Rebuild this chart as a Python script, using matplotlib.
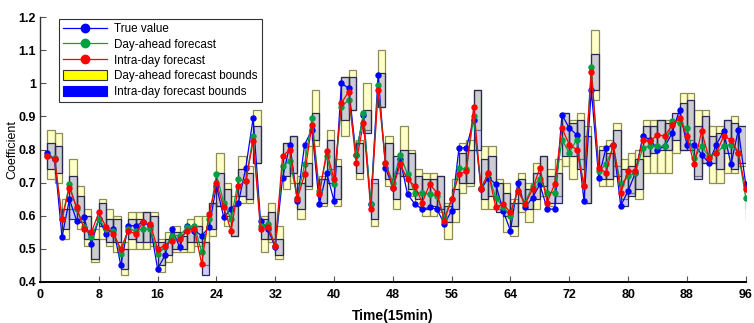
import numpy as np
import matplotlib
matplotlib.use("Agg")
import matplotlib.pyplot as plt
from matplotlib.lines import Line2D
from matplotlib.patches import Patch

plt.rcParams['font.family'] = ['Liberation Sans', 'DejaVu Sans']

# time steps (15 min each)
steps = np.arange(1, 97)

true_value = [
    0.79, 0.77, 0.535, 0.65, 0.585, 0.595, 0.515, 0.59, 0.545, 0.56,
    0.45, 0.57, 0.57, 0.58, 0.57, 0.44, 0.48, 0.56, 0.505, 0.57,
    0.555, 0.54, 0.565, 0.69, 0.595, 0.62, 0.64, 0.745, 0.895, 0.585,
    0.56, 0.505, 0.715, 0.815, 0.645, 0.815, 0.86, 0.635, 0.73, 0.645,
    1.0, 0.985, 0.785, 0.905, 0.635, 1.025, 0.745, 0.685, 0.77, 0.665,
    0.635, 0.62, 0.625, 0.62, 0.575, 0.615, 0.805, 0.805, 0.89, 0.68,
    0.715, 0.695, 0.615, 0.555, 0.70, 0.625, 0.655, 0.695, 0.62, 0.62,
    0.905, 0.865, 0.845, 0.645, 0.98, 0.715, 0.805, 0.815, 0.63, 0.675,
    0.73, 0.84, 0.83, 0.80, 0.81, 0.85, 0.92, 0.815, 0.815, 0.785,
    0.76, 0.815, 0.855, 0.755, 0.86, 0.695,
]

day_ahead = [
    0.78, 0.775, 0.59, 0.695, 0.62, 0.565, 0.535, 0.59, 0.56, 0.555,
    0.485, 0.56, 0.555, 0.56, 0.56, 0.485, 0.505, 0.54, 0.54, 0.565,
    0.57, 0.49, 0.59, 0.725, 0.64, 0.59, 0.71, 0.705, 0.84, 0.57,
    0.575, 0.51, 0.75, 0.765, 0.655, 0.755, 0.895, 0.675, 0.78, 0.695,
    0.93, 0.95, 0.785, 0.91, 0.635, 0.995, 0.76, 0.70, 0.785, 0.725,
    0.67, 0.67, 0.665, 0.66, 0.595, 0.65, 0.745, 0.74, 0.90, 0.685,
    0.725, 0.655, 0.625, 0.60, 0.675, 0.64, 0.69, 0.71, 0.67, 0.67,
    0.83, 0.79, 0.83, 0.69, 1.05, 0.735, 0.755, 0.81, 0.695, 0.72,
    0.73, 0.805, 0.81, 0.81, 0.81, 0.885, 0.88, 0.865, 0.775, 0.81,
    0.78, 0.79, 0.81, 0.815, 0.79, 0.655,
]

intra_day = [
    0.78, 0.77, 0.59, 0.685, 0.625, 0.56, 0.55, 0.61, 0.565, 0.545,
    0.50, 0.555, 0.545, 0.58, 0.575, 0.50, 0.51, 0.525, 0.53, 0.555,
    0.56, 0.455, 0.605, 0.70, 0.625, 0.555, 0.69, 0.705, 0.825, 0.56,
    0.565, 0.51, 0.78, 0.80, 0.65, 0.725, 0.875, 0.665, 0.795, 0.71,
    0.94, 0.975, 0.76, 0.88, 0.62, 0.98, 0.76, 0.685, 0.755, 0.71,
    0.69, 0.64, 0.695, 0.67, 0.585, 0.65, 0.725, 0.735, 0.93, 0.68,
    0.73, 0.625, 0.635, 0.61, 0.675, 0.635, 0.68, 0.745, 0.64, 0.695,
    0.865, 0.815, 0.80, 0.69, 1.035, 0.745, 0.73, 0.815, 0.67, 0.735,
    0.735, 0.83, 0.825, 0.845, 0.84, 0.875, 0.895, 0.84, 0.755, 0.855,
    0.775, 0.79, 0.84, 0.83, 0.79, 0.68,
]

# day-ahead forecast bounds (yellow boxes)
da_upper = [
    0.86, 0.85, 0.65, 0.77, 0.69, 0.62, 0.56, 0.65, 0.62, 0.60,
    0.52, 0.61, 0.61, 0.61, 0.61, 0.53, 0.55, 0.57, 0.55, 0.59,
    0.60, 0.60, 0.64, 0.79, 0.70, 0.66, 0.78, 0.75, 0.92, 0.60,
    0.64, 0.57, 0.82, 0.84, 0.72, 0.81, 0.98, 0.72, 0.86, 0.77,
    1.02, 1.04, 0.83, 1.00, 0.70, 1.10, 0.84, 0.73, 0.87, 0.80,
    0.74, 0.73, 0.73, 0.72, 0.64, 0.71, 0.82, 0.83, 0.98, 0.81,
    0.81, 0.71, 0.70, 0.65, 0.73, 0.70, 0.76, 0.78, 0.74, 0.77,
    0.91, 0.89, 0.91, 0.87, 1.16, 0.81, 0.83, 0.88, 0.77, 0.79,
    0.80, 0.89, 0.89, 0.89, 0.89, 0.89, 0.97, 0.97, 0.92, 0.92,
    0.87, 0.87, 0.89, 0.90, 0.87, 0.68,
]
da_lower = [
    0.71, 0.70, 0.53, 0.62, 0.56, 0.51, 0.46, 0.53, 0.51, 0.49,
    0.42, 0.50, 0.50, 0.50, 0.51, 0.43, 0.46, 0.49, 0.49, 0.49,
    0.51, 0.45, 0.54, 0.63, 0.57, 0.54, 0.64, 0.64, 0.76, 0.49,
    0.52, 0.47, 0.68, 0.70, 0.59, 0.68, 0.81, 0.63, 0.74, 0.63,
    0.84, 0.92, 0.71, 0.86, 0.57, 0.93, 0.69, 0.62, 0.72, 0.66,
    0.63, 0.60, 0.60, 0.61, 0.53, 0.58, 0.67, 0.69, 0.86, 0.62,
    0.62, 0.62, 0.55, 0.54, 0.61, 0.58, 0.62, 0.66, 0.63, 0.66,
    0.75, 0.71, 0.77, 0.64, 0.95, 0.69, 0.69, 0.75, 0.65, 0.67,
    0.65, 0.73, 0.73, 0.73, 0.73, 0.79, 0.80, 0.83, 0.72, 0.76,
    0.70, 0.70, 0.73, 0.73, 0.75, 0.59,
]

# intra-day forecast bounds (blue boxes)
id_upper = [
    0.82, 0.81, 0.62, 0.72, 0.66, 0.60, 0.53, 0.64, 0.59, 0.59,
    0.50, 0.59, 0.59, 0.61, 0.60, 0.52, 0.53, 0.55, 0.54, 0.57,
    0.57, 0.52, 0.64, 0.73, 0.68, 0.63, 0.74, 0.73, 0.87, 0.59,
    0.61, 0.53, 0.82, 0.84, 0.70, 0.76, 0.91, 0.71, 0.83, 0.75,
    1.02, 1.02, 0.82, 0.92, 0.71, 1.03, 0.82, 0.78, 0.80, 0.79,
    0.72, 0.71, 0.71, 0.72, 0.63, 0.68, 0.79, 0.80, 0.98, 0.77,
    0.78, 0.70, 0.67, 0.64, 0.71, 0.68, 0.73, 0.78, 0.72, 0.73,
    0.91, 0.88, 0.89, 0.84, 1.09, 0.80, 0.79, 0.86, 0.74, 0.75,
    0.77, 0.87, 0.87, 0.89, 0.88, 0.91, 0.94, 0.95, 0.87, 0.90,
    0.84, 0.85, 0.89, 0.88, 0.87, 0.69,
]
id_lower = [
    0.74, 0.73, 0.56, 0.59, 0.58, 0.53, 0.47, 0.57, 0.52, 0.52,
    0.44, 0.53, 0.52, 0.52, 0.52, 0.45, 0.48, 0.50, 0.50, 0.52,
    0.52, 0.42, 0.56, 0.63, 0.60, 0.54, 0.66, 0.65, 0.76, 0.53,
    0.53, 0.48, 0.72, 0.73, 0.62, 0.69, 0.83, 0.64, 0.70, 0.65,
    0.89, 0.92, 0.73, 0.85, 0.59, 0.93, 0.71, 0.65, 0.72, 0.68,
    0.65, 0.62, 0.63, 0.62, 0.58, 0.62, 0.70, 0.70, 0.80, 0.65,
    0.66, 0.61, 0.60, 0.57, 0.64, 0.62, 0.65, 0.69, 0.64, 0.64,
    0.78, 0.78, 0.74, 0.64, 0.98, 0.71, 0.71, 0.72, 0.63, 0.66,
    0.68, 0.78, 0.79, 0.80, 0.80, 0.83, 0.80, 0.80, 0.71, 0.76,
    0.76, 0.74, 0.79, 0.74, 0.76, 0.62,
]

x_ticks = list(range(0, 97, 8))
y_ticks = [0.4, 0.5, 0.6, 0.7, 0.8, 0.9, 1.0, 1.1, 1.2]

fig = plt.figure(figsize=(7.54, 3.23), dpi=100)
ax = fig.add_axes([0.053, 0.127, 0.936, 0.820])

da_lo = np.array(da_lower)
da_hi = np.array(da_upper)
id_lo = np.array(id_lower)
id_hi = np.array(id_upper)

# bound boxes, each spanning one step to the right of its point
ax.bar(steps, da_hi - da_lo, bottom=da_lo, width=1, align='edge',
       facecolor=(1, 1, 0, 0.22), edgecolor='#8c8c55', linewidth=0.9, zorder=1)
ax.bar(steps, id_hi - id_lo, bottom=id_lo, width=1, align='edge',
       facecolor=(0, 0, 1, 0.2), edgecolor='#2a2a50', linewidth=0.9, zorder=2)

ax.plot(steps, true_value, color='#0000ff', lw=0.9, marker='o', ms=3.6, zorder=3)
ax.plot(steps, day_ahead, color='#00a040', lw=0.9, marker='o', ms=3.6, zorder=4)
ax.plot(steps, intra_day, color='#ff0000', lw=0.9, marker='o', ms=3.6, zorder=5)

ax.set_xlim(0, 96)
ax.set_ylim(0.4, 1.2)
ax.set_xticks(x_ticks)
ax.set_yticks(y_ticks)
ax.set_yticklabels([f"{v:g}" for v in y_ticks])

for s in ['top', 'right']:
    ax.spines[s].set_visible(False)
ax.spines['bottom'].set_linewidth(1.4)
ax.spines['left'].set_linewidth(1.0)
ax.spines['left'].set_color('#333333')
ax.tick_params(direction='in', length=4, width=0.8, color='#555555',
               labelsize=9)
ax.tick_params(axis='x', pad=5)
ax.tick_params(axis='y', pad=3)
for lab in ax.get_xticklabels() + ax.get_yticklabels():
    lab.set_fontweight('bold')

ax.set_xlabel("Time(15min)", fontsize=10, fontweight='bold', labelpad=6)
ax.set_ylabel("Coefficient", fontsize=9)
ax.yaxis.set_label_coords(-0.031, 0.5)

handles = [
    Line2D([], [], color='#0000ff', lw=0.9, marker='o', ms=6),
    Line2D([], [], color='#00a040', lw=0.9, marker='o', ms=6),
    Line2D([], [], color='#ff0000', lw=0.9, marker='o', ms=6),
    Patch(facecolor='#ffff00', edgecolor='#333333', linewidth=0.8),
    Patch(facecolor='#0000ff', edgecolor='#0000ff', linewidth=0.8),
]
labels = ["True value", "Day-ahead forecast", "Intra-day forecast",
          "Day-ahead forecast bounds", "Intra-day forecast bounds"]
leg = ax.legend(handles, labels, loc='upper left', bbox_to_anchor=(0.027, 0.993),
                borderaxespad=0, fontsize=8.4, handlelength=3.8, handleheight=0.9,
                labelspacing=0.32, fancybox=False, framealpha=1,
                edgecolor='#333333', borderpad=0.35, handletextpad=0.6)
leg.get_frame().set_linewidth(0.8)
leg.set_zorder(10)

fig.savefig("out.png", dpi=100)
